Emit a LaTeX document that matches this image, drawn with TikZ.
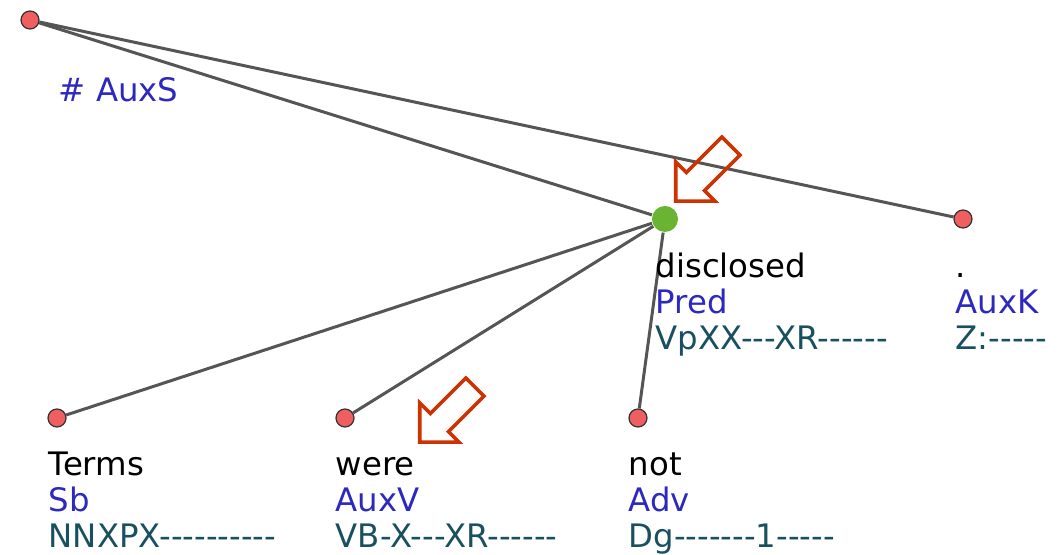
\documentclass[tikz,border=0pt]{standalone}
\usepackage{fontspec}
\newfontfamily\treefont{DejaVu Sans}[Ligatures=TeXOff]
\usetikzlibrary{shapes.arrows}
\definecolor{edgegray}{RGB}{85,85,85}
\definecolor{nodered}{RGB}{240,95,95}
\definecolor{nodegreen}{RGB}{105,180,50}
\definecolor{labblue}{RGB}{45,40,190}
\definecolor{tagteal}{RGB}{25,80,95}
\definecolor{arrowred}{RGB}{204,51,0}

\begin{document}
\begin{tikzpicture}[x=0.01cm, y=-0.01cm,
    edge/.style={draw=edgegray, line width=0.03cm},
    tnode/.style={circle, fill=nodered, draw=black!80, line width=0.012cm, minimum size=0.18cm, inner sep=0},
    prednode/.style={circle, fill=nodegreen, minimum size=0.26cm, inner sep=0},
    word/.style={anchor=base west, inner sep=0, align=left, font=\treefont\fontsize{9.2}{10.24}\selectfont},
    hint/.style={single arrow, draw=arrowred, line width=0.035cm, minimum height=0.78cm, inner xsep=0, inner ysep=0.11cm, single arrow head extend=0.15cm, rotate=225, anchor=tip}]
          \useasboundingbox (0, 0) rectangle (1062, 555);
          % tree nodes
          \node[tnode] (root) at (30, 20) {};
          \node[prednode] (disclosed) at (665, 219) {};
          \node[tnode] (period) at (963, 219) {};
          \node[tnode] (terms) at (57, 418) {};
          \node[tnode] (were) at (345, 418) {};
          \node[tnode] (not) at (638, 418) {};
          \draw[edge] (root) -- (disclosed);
          \draw[edge] (root) -- (period);
          \draw[edge] (disclosed) -- (terms);
          \draw[edge] (disclosed) -- (were);
          \draw[edge] (disclosed) -- (not);
          % labels (base = last line)
          \node[word, text=labblue] (rootlab) at (58, 102) {\# AuxS};
          \node[word] (disclosedlab) at (655, 350) {disclosed\\\color{labblue}Pred\\\color{tagteal}VpXX---XR------};
          \node[word] (periodlab) at (955, 350) {.\\\color{labblue}AuxK\\\color{tagteal}Z:-----};
          \node[word] (termslab) at (48, 548) {Terms\\\color{labblue}Sb\\\color{tagteal}NNXPX----------};
          \node[word] (werelab) at (335, 548) {were\\\color{labblue}AuxV\\\color{tagteal}VB-X---XR------};
          \node[word] (notlab) at (628, 548) {not\\\color{labblue}Adv\\\color{tagteal}Dg-------1-----};
          % pointers
          \node[hint] (hintpred) at (674, 203) {};
          \node[hint] (hintaux) at (418, 444) {};
        \end{tikzpicture}
\end{document}
